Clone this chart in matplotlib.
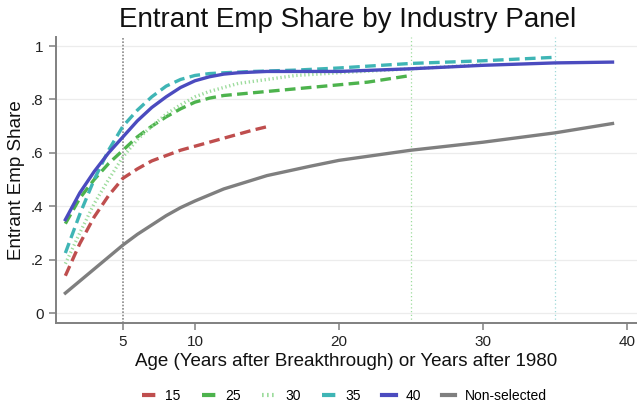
import matplotlib
matplotlib.use("Agg")
import matplotlib.pyplot as plt

plt.rcParams['font.family'] = ['Liberation Sans', 'DejaVu Sans']

# Entrant employment share by age, one series per industry panel
age_15 = [1, 2, 3, 4, 5, 6, 7, 8, 9, 10, 11, 12, 13, 14, 15]
share_15 = [0.14, 0.26, 0.36, 0.44, 0.505, 0.54, 0.57, 0.59, 0.61, 0.625, 0.64, 0.655, 0.67, 0.685, 0.698]

age_25 = [1, 2, 3, 4, 5, 6, 7, 8, 9, 10, 11, 12, 13, 14, 15, 17, 20, 22, 25]
share_25 = [0.335, 0.43, 0.50, 0.56, 0.61, 0.66, 0.70, 0.735, 0.765, 0.79, 0.805, 0.815, 0.82, 0.825, 0.83, 0.84, 0.855, 0.865, 0.89]

age_30 = [1, 2, 3, 4, 5, 6, 7, 8, 9, 10, 11, 12, 13, 15, 17, 20, 25, 30]
share_30 = [0.185, 0.30, 0.41, 0.50, 0.585, 0.65, 0.70, 0.745, 0.78, 0.81, 0.83, 0.845, 0.86, 0.875, 0.89, 0.90, 0.915, 0.93]

age_35 = [1, 2, 3, 4, 5, 6, 7, 8, 9, 10, 11, 12, 14, 17, 20, 25, 30, 35]
share_35 = [0.225, 0.37, 0.50, 0.61, 0.70, 0.76, 0.81, 0.85, 0.875, 0.89, 0.897, 0.90, 0.905, 0.91, 0.918, 0.935, 0.945, 0.958]

age_40 = [1, 2, 3, 4, 5, 6, 7, 8, 9, 10, 11, 12, 13, 15, 20, 25, 30, 35, 39]
share_40 = [0.35, 0.45, 0.53, 0.60, 0.66, 0.72, 0.77, 0.81, 0.845, 0.87, 0.885, 0.895, 0.90, 0.905, 0.905, 0.915, 0.928, 0.937, 0.94]

age_other = [1, 2, 3, 4, 5, 6, 7, 8, 9, 10, 12, 15, 18, 20, 25, 30, 35, 39]
share_other = [0.075, 0.12, 0.165, 0.21, 0.255, 0.295, 0.33, 0.365, 0.395, 0.42, 0.465, 0.515, 0.55, 0.572, 0.61, 0.64, 0.675, 0.71]

labels = ['15', '25', '30', '35', '40', 'Non-selected']
y_ticks = [0, 0.2, 0.4, 0.6, 0.8, 1.0]
y_ticklabels = ['0', '.2', '.4', '.6', '.8', '1']
x_ticks = [5, 10, 20, 30, 40]
ref_lines = [5, 25, 35]

c_red = '#bf4e4e'
c_green = '#4db34d'
c_lgreen = '#9ddc9d'
c_cyan = '#3fb5b5'
c_blue = '#4b4bbf'
c_gray = '#7f7f7f'

fig = plt.figure(figsize=(6.37, 4.04), dpi=100)
ax = fig.add_axes([56 / 637, (404 - 323) / 404, 1 - 56 / 637, (323 - 37) / 404])

for yv in y_ticks:
    ax.axhline(yv, color='#ececec', lw=0.9, zorder=0)

ax.axvline(ref_lines[0], color='#8a8a8a', lw=1.2, ls=(0, (1, 1.0)), zorder=1)
ax.axvline(ref_lines[1], color=c_lgreen, lw=0.9, ls=(0, (1, 2)), zorder=1)
ax.axvline(ref_lines[2], color='#9fd8d8', lw=0.9, ls=(0, (1, 2)), zorder=1)

lw = 2.4
dash = (0, (3.2, 1.6))
h1, = ax.plot(age_15, share_15, color=c_red, lw=lw, ls=dash, label=labels[0], zorder=3)
h2, = ax.plot(age_25, share_25, color=c_green, lw=lw, ls=dash, label=labels[1], zorder=3)
h3, = ax.plot(age_30, share_30, color=c_lgreen, lw=lw, ls=(0, (0.4, 0.8)), label=labels[2], zorder=3)
h4, = ax.plot(age_35, share_35, color=c_cyan, lw=lw, ls=dash, label=labels[3], zorder=3)
h5, = ax.plot(age_40, share_40, color=c_blue, lw=lw, label=labels[4], zorder=4)
h6, = ax.plot(age_other, share_other, color=c_gray, lw=lw, label=labels[5], zorder=3)

ax.set_xlim(0.35, 40.7)
ax.set_ylim(-0.037, 1.034)
ax.set_xticks(x_ticks)
ax.set_yticks(y_ticks)
ax.set_yticklabels(y_ticklabels)

for side in ['top', 'right']:
    ax.spines[side].set_visible(False)
for side in ['left', 'bottom']:
    ax.spines[side].set_color('#808080')
    ax.spines[side].set_linewidth(1.4)
ax.tick_params(axis='both', colors='#808080', length=5, width=1.1, labelcolor='#222222', labelsize=11)
ax.tick_params(axis='y', pad=4)
ax.tick_params(axis='x', pad=4)

ax.set_xlabel('Age (Years after Breakthrough) or Years after 1980', fontsize=13.5, color='#111111')
ax.xaxis.set_label_coords(0.5, -0.105)
ax.set_ylabel('Entrant Emp Share', fontsize=13.5, color='#111111')
ax.yaxis.set_label_coords(-0.053, 0.5)
fig.text(348 / 637, 1 - 20 / 404, 'Entrant Emp Share by Industry Panel', fontsize=20,
         ha='center', va='center', color='#111111')

leg = fig.legend(handles=[h1, h2, h3, h4, h5, h6], loc='center', bbox_to_anchor=(344.5 / 637, 1 - 396 / 404),
                 ncol=6, frameon=False, fontsize=10, handlelength=1.0, handletextpad=0.7,
                 columnspacing=1.5, borderpad=0, borderaxespad=0)
for lh in leg.get_lines():
    lh.set_linewidth(3)

fig.savefig('out.png', dpi=100, facecolor='white')
